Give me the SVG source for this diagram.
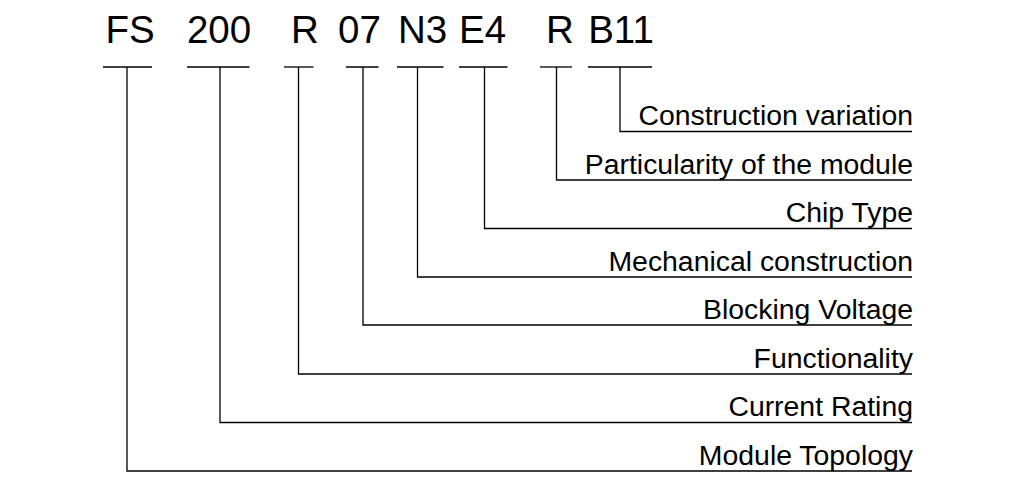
<svg xmlns="http://www.w3.org/2000/svg" width="1036" height="489" viewBox="0 0 1036 489">
<style>
.code{font-family:"Liberation Sans",Arial,sans-serif;font-size:38.5px;fill:#000;text-anchor:middle}
.desc{font-family:"Liberation Sans",Arial,sans-serif;font-size:28.4px;fill:#000;text-anchor:end}
.ln{stroke:#000;stroke-width:1.3;fill:none}
</style>
<rect width="1036" height="489" fill="#fff"/>
<g id="code-FS"><text class="code" x="130" y="42.5">FS</text><line class="ln" x1="103" y1="67" x2="152" y2="67"/></g>
<g id="code-200"><text class="code" x="219" y="42.5">200</text><line class="ln" x1="187" y1="67" x2="249.5" y2="67"/></g>
<g id="code-R1"><text class="code" x="305" y="42.5">R</text><line class="ln" x1="284" y1="67" x2="313.5" y2="67"/></g>
<g id="code-07"><text class="code" x="359.5" y="42.5">07</text><line class="ln" x1="346" y1="67" x2="378.5" y2="67"/></g>
<g id="code-N3"><text class="code" x="422.5" y="42.5">N3</text><line class="ln" x1="397" y1="67" x2="443.5" y2="67"/></g>
<g id="code-E4"><text class="code" x="482.5" y="42.5">E4</text><line class="ln" x1="459" y1="67" x2="507.5" y2="67"/></g>
<g id="code-R2"><text class="code" x="560" y="42.5">R</text><line class="ln" x1="540" y1="67" x2="572" y2="67"/></g>
<g id="code-B11"><text class="code" x="621" y="42.5">B11</text><line class="ln" x1="588" y1="67" x2="652" y2="67"/></g>
<g id="desc-construction-variation"><text class="desc" x="913" y="125">Construction variation</text></g>
<g id="desc-particularity"><text class="desc" x="913" y="173.5">Particularity of the module</text></g>
<g id="desc-chip-type"><text class="desc" x="913" y="222">Chip Type</text></g>
<g id="desc-mechanical"><text class="desc" x="913" y="270.5">Mechanical construction</text></g>
<g id="desc-blocking"><text class="desc" x="913" y="318.5">Blocking Voltage</text></g>
<g id="desc-functionality"><text class="desc" x="913" y="367.5">Functionality</text></g>
<g id="desc-current"><text class="desc" x="913" y="416">Current Rating</text></g>
<g id="desc-topology"><text class="desc" x="913" y="464.5">Module Topology</text></g>
<g id="connectors">
<path class="ln" d="M620 67V131.5H912"/>
<path class="ln" d="M556.5 67V180H912"/>
<path class="ln" d="M484.5 67V228.5H912"/>
<path class="ln" d="M417.5 67V277H912"/>
<path class="ln" d="M363 67V325H912"/>
<path class="ln" d="M298.5 67V374H912"/>
<path class="ln" d="M220 67V422.5H912"/>
<path class="ln" d="M127 67V471H912"/>
</g>
</svg>
